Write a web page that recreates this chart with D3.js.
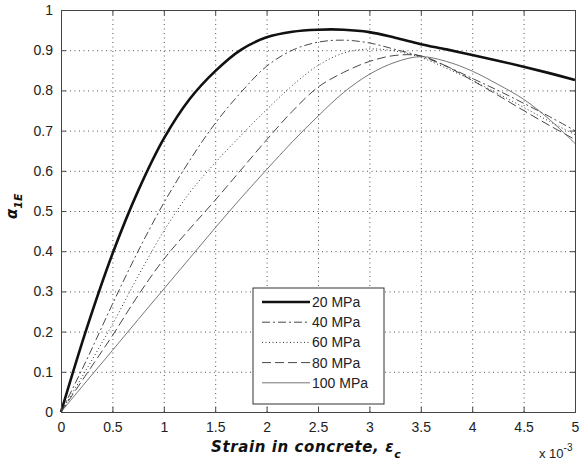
<!DOCTYPE html>
<html>
<head>
<meta charset="utf-8">
<script src="https://cdn.jsdelivr.net/npm/d3@7"></script>
<style>
  body { margin: 0; background: #fff; }
  svg { display: block; }
  .tick text { font-family: "Liberation Sans", Arial, sans-serif; font-size: 14px; fill: #222; }
  .axis path, .axis line { stroke: #444; }
  .grid line { stroke: #555; stroke-dasharray: 1,3.5; }
  .grid path { display: none; }
</style>
</head>
<body>
<div id="chart"></div>
<script>
// strain values (x 10^-3) where the curves were read
var strain = [0, 0.25, 0.5, 0.75, 1.0, 1.25, 1.5, 1.75, 2.0, 2.25, 2.5, 2.75, 3.0, 3.25, 3.5, 3.75, 4.0, 4.25, 4.5, 4.75, 5.0];

// alpha_1E for each concrete strength
var alpha20  = [0, 0.208, 0.393, 0.550, 0.680, 0.778, 0.848, 0.901, 0.932, 0.946, 0.951, 0.951, 0.945, 0.931, 0.915, 0.902, 0.888, 0.874, 0.859, 0.843, 0.826];
var alpha40  = [0, 0.130, 0.268, 0.400, 0.520, 0.625, 0.718, 0.795, 0.860, 0.900, 0.920, 0.925, 0.918, 0.902, 0.885, 0.860, 0.830, 0.800, 0.768, 0.735, 0.700];
var alpha60  = [0, 0.107, 0.218, 0.338, 0.450, 0.545, 0.620, 0.688, 0.752, 0.812, 0.862, 0.893, 0.903, 0.898, 0.882, 0.855, 0.825, 0.792, 0.758, 0.723, 0.690];
var alpha80  = [0, 0.095, 0.190, 0.290, 0.380, 0.455, 0.527, 0.602, 0.677, 0.748, 0.808, 0.845, 0.872, 0.887, 0.886, 0.860, 0.825, 0.788, 0.750, 0.713, 0.678];
var alpha100 = [0, 0.077, 0.153, 0.230, 0.306, 0.382, 0.458, 0.532, 0.603, 0.672, 0.736, 0.795, 0.840, 0.870, 0.884, 0.872, 0.848, 0.815, 0.778, 0.728, 0.668];

var grades = ["20 MPa", "40 MPa", "60 MPa", "80 MPa", "100 MPa"];
var xTicks = [0, 0.5, 1, 1.5, 2, 2.5, 3, 3.5, 4, 4.5, 5];
var yTicks = [0, 0.1, 0.2, 0.3, 0.4, 0.5, 0.6, 0.7, 0.8, 0.9, 1];

// line look per grade (MATLAB style)
var styles = [
    {stroke: "#111", width: 2.6, dash: null},
    {stroke: "#333", width: 0.9, dash: "8,3,2,3"},
    {stroke: "#333", width: 1.0, dash: "1,2.5"},
    {stroke: "#333", width: 0.9, dash: "9,4"},
    {stroke: "#666", width: 0.9, dash: null}
];

var width = 580, height = 469;
var margin = {top: 10, right: 5, bottom: 57, left: 61};
var w = width - margin.left - margin.right,
    h = height - margin.top - margin.bottom;

var svg = d3.select("#chart").append("svg")
    .attr("width", width)
    .attr("height", height)
    .append("g")
    .attr("transform", "translate(" + margin.left + "," + margin.top + ")");

var x = d3.scaleLinear().domain([0, 5]).range([0, w]);
var y = d3.scaleLinear().domain([0, 1]).range([h, 0]);

var fmt = function(d){ return String(+d.toFixed(1)); };

// dotted grid
svg.append("g").attr("class", "grid")
    .attr("transform", "translate(0," + h + ")")
    .call(d3.axisBottom(x).tickValues(xTicks.slice(1, -1)).tickSize(-h).tickFormat(""));
svg.append("g").attr("class", "grid")
    .call(d3.axisLeft(y).tickValues(yTicks.slice(1, -1)).tickSize(-w).tickFormat(""));

// curves
var seriesData = [alpha20, alpha40, alpha60, alpha80, alpha100].map(function(arr){
    return arr.map(function(v, i){ return [strain[i], v]; });
});

var line = d3.line()
    .x(function(d){ return x(d[0]); })
    .y(function(d){ return y(d[1]); })
    .curve(d3.curveCatmullRom.alpha(0.5));

svg.selectAll(".curve")
    .data(seriesData).enter().append("path")
    .attr("class", "curve")
    .attr("d", line)
    .attr("fill", "none")
    .attr("stroke", function(d, i){ return styles[i].stroke; })
    .attr("stroke-width", function(d, i){ return styles[i].width; })
    .attr("stroke-dasharray", function(d, i){ return styles[i].dash; });

// axes box with inward ticks
svg.append("g").attr("class", "axis")
    .attr("transform", "translate(0," + h + ")")
    .call(d3.axisBottom(x).tickValues(xTicks).tickSize(-5).tickPadding(10).tickFormat(fmt));
svg.append("g").attr("class", "axis")
    .call(d3.axisLeft(y).tickValues(yTicks).tickSize(-5).tickPadding(8).tickFormat(fmt));
svg.append("g").attr("class", "axis")
    .call(d3.axisTop(x).tickValues(xTicks).tickSize(-5).tickFormat(""));
svg.append("g").attr("class", "axis")
    .attr("transform", "translate(" + w + ",0)")
    .call(d3.axisRight(y).tickValues(yTicks).tickSize(-5).tickFormat(""));

// legend
var leg = svg.append("g").attr("transform", "translate(" + (253 - margin.left) + "," + (288 - margin.top) + ")");
leg.append("rect")
    .attr("width", 131).attr("height", 116)
    .attr("fill", "#fff").attr("stroke", "#333").attr("stroke-width", 1);
grades.forEach(function(g, i){
    var yy = 14 + i * 20.2;
    leg.append("line")
        .attr("x1", 9).attr("x2", 57).attr("y1", yy).attr("y2", yy)
        .attr("stroke", styles[i].stroke)
        .attr("stroke-width", styles[i].width)
        .attr("stroke-dasharray", styles[i].dash);
    leg.append("text")
        .attr("x", 59).attr("y", yy + 5)
        .style("font-family", "Liberation Sans, Arial, sans-serif")
        .style("font-size", "14px").attr("fill", "#222")
        .text(g);
});

// axis titles
var xl = svg.append("text")
    .attr("x", 150).attr("y", h + 40)
    .style("font-family", "DejaVu Sans, sans-serif")
    .style("font-size", "15px").style("font-weight", "bold").style("font-style", "italic")
    .style("letter-spacing", "0.6px")
    .attr("fill", "#111");
xl.append("tspan").text("Strain in concrete,  ε");
xl.append("tspan").attr("dy", 6).style("font-size", "11px").text("c");

svg.append("text")
    .attr("x", 478).attr("y", h + 46)
    .style("font-family", "Liberation Sans, Arial, sans-serif")
    .style("font-size", "13px").attr("fill", "#222")
    .text("x 10")
    .append("tspan").attr("dy", -7).style("font-size", "10px").text("-3");

var yl = svg.append("text")
    .attr("transform", "translate(" + (-44) + "," + (h / 2 + 8) + ") rotate(-90)")
    .style("font-family", "DejaVu Sans, sans-serif")
    .style("font-size", "15px").style("font-weight", "bold").style("font-style", "italic")
    .attr("fill", "#111");
yl.append("tspan").text("α");
yl.append("tspan").attr("dy", 5).style("font-size", "11px").text("1E");
</script>
</body>
</html>
